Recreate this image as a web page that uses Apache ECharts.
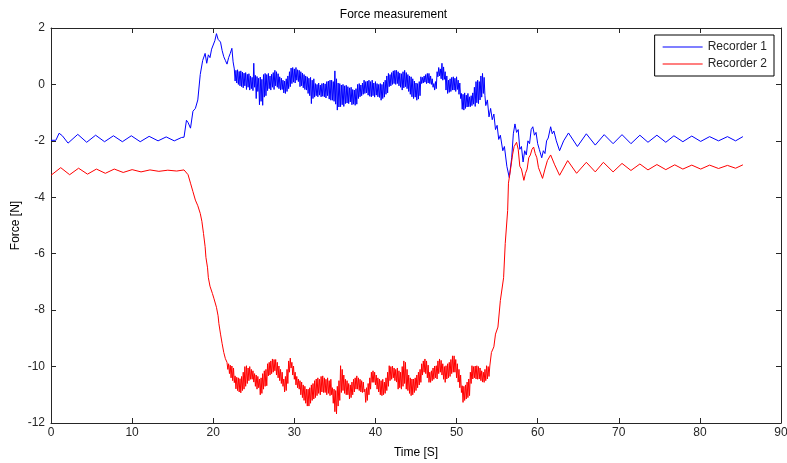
<!DOCTYPE html>
<html>
<head>
<meta charset="utf-8">
<script src="https://cdn.jsdelivr.net/npm/echarts@6/dist/echarts.min.js"></script>
<style>
html,body{margin:0;padding:0;background:#fff;}
#chart{width:787px;height:463px;}
</style>
</head>
<body>
<div id="chart"></div>
<script>
// ---------- DATA ----------
var titleText = 'Force measurement';
var xLabel = 'Time [S]';
var yLabel = 'Force [N]';
var seriesNames = ['Recorder 1', 'Recorder 2'];
var xTicks = [0, 10, 20, 30, 40, 50, 60, 70, 80, 90];
var yTicks = [-12, -10, -8, -6, -4, -2, 0, 2];

// Recorder 1: calm start [time, force]
var r1Start = [[0,-1.98],[0.6,-1.98],[1.0,-1.73],[1.4,-1.82],[2.1,-2.08],[3.3,-1.77],[4.4,-2.05],[5.5,-1.8],[6.6,-2.03],[7.7,-1.82],[8.8,-2.03],[9.9,-1.82],[11.0,-2.03],[12.1,-1.84],[13.2,-2.0],[14.2,-1.86],[15.2,-2.0],[16.1,-1.88]];
// Recorder 1: rise
var r1Rise = [[16.4,-1.87],[16.7,-1.27],[16.9,-1.35],[17.2,-1.55],[17.5,-0.95],[17.8,-0.85],[18.1,-0.55],[18.4,0.35],[18.7,0.85],[19.0,1.1],[19.2,0.75],[19.4,1.05],[19.6,0.95],[19.8,1.25],[20.0,1.3],[20.2,1.55],[20.4,1.8],[20.6,1.6],[20.9,1.5],[21.1,1.2],[21.3,0.98],[21.5,0.85],[21.7,0.72],[21.9,0.95],[22.1,1.1],[22.3,1.28],[22.45,0.8]];
// Recorder 1: noisy plateau, sampled every 0.1 s from 22.6 s
var r1NoiseStart = 22.6, r1NoiseStep = 0.1;
var r1Noise = [
 0.55,0.12,0.50,0.05,0.52,0.00,0.46,-0.05,0.48,-0.08,
 0.44,-0.12,0.40,-0.05,0.42,-0.18,0.36,-0.10,0.38,-0.20,
 0.30,-0.15,0.25,-0.22,0.75,-0.10,0.32,-0.50,0.28,-0.25,
 0.22,-0.72,0.26,-0.60,0.18,-0.74,0.35,-0.45,0.39,-0.40,
 0.35,-0.22,0.39,-0.15,0.30,-0.20,0.36,-0.10,0.42,-0.18,
 0.50,-0.05,0.45,-0.10,0.38,-0.15,0.27,-0.20,0.22,-0.18,
 0.15,-0.30,0.12,-0.32,0.20,-0.25,0.30,-0.15,0.45,-0.08,
 0.58,0.03,0.60,0.08,0.55,0.05,0.60,0.15,0.52,0.10,
 0.50,-0.08,0.45,-0.05,0.40,-0.12,0.35,-0.18,0.30,-0.20,
 0.27,-0.32,0.22,-0.40,0.25,-0.68,0.15,-0.50,0.20,-0.45,
 0.03,-0.40,0.00,-0.44,0.05,-0.38,-0.02,-0.44,0.03,-0.42,
 0.05,-0.44,0.02,-0.48,0.10,-0.40,0.12,-0.52,0.15,-0.56,
 0.15,-0.56,0.10,-0.60,0.48,-0.70,0.20,-0.91,0.05,-0.80,
 0.03,-0.79,-0.02,-0.72,0.00,-0.78,-0.05,-0.68,-0.03,-0.66,
 -0.08,-0.68,-0.12,-0.62,-0.10,-0.72,-0.18,-0.70,-0.20,-0.74,
 -0.15,-0.70,0.00,-0.50,0.03,-0.44,-0.02,-0.40,0.05,-0.35,
 0.15,-0.32,0.10,-0.30,0.12,-0.38,0.15,-0.42,0.10,-0.44,
 0.15,-0.40,0.05,-0.45,0.10,-0.38,0.03,-0.44,0.00,-0.46,
 0.03,-0.56,0.00,-0.50,0.08,-0.45,0.15,-0.35,0.30,-0.30,
 0.39,-0.08,0.35,-0.05,0.42,0.00,0.48,0.03,0.50,0.00,
 0.50,0.03,0.45,-0.05,0.40,-0.10,0.38,-0.20,0.45,-0.12,
 0.50,-0.08,0.42,-0.15,0.35,-0.25,0.30,-0.35,0.27,-0.44,
 0.20,-0.50,0.12,-0.45,0.05,-0.56,0.03,-0.52,0.10,-0.40,
 0.27,0.03,0.25,0.05,0.30,0.08,0.35,0.03,0.39,0.05,
 0.39,0.03,0.30,0.00,0.20,-0.10,0.03,-0.20,0.10,-0.15,
 0.45,0.27,0.60,0.30,0.55,0.20,0.75,0.15,0.62,0.18,
 0.45,-0.20,0.30,-0.32,0.15,-0.28,0.20,-0.25,0.25,-0.20,
 0.27,-0.20,0.22,-0.25,0.27,-0.18,0.15,-0.35,0.05,-0.50,
 -0.32,-0.88,-0.35,-0.91,-0.30,-0.85,-0.38,-0.80,-0.32,-0.79,
 -0.44,-0.79,-0.40,-0.75,-0.30,-0.70,-0.10,-0.78,0.10,-0.65,
 0.15,-0.68,0.10,-0.55,0.30,-0.45,0.39,-0.32,0.25,-0.40,
 -0.75];
// Recorder 1: drop and decaying oscillation
var r1End = [[53.8,-0.55],[54.0,-1.15],[54.2,-0.85],[54.4,-1.25],[54.6,-1.05],[54.8,-1.6],[55.0,-1.45],[55.2,-1.95],[55.4,-1.8],[55.7,-2.35],[55.9,-2.2],[56.2,-2.9],[56.5,-3.3],[56.8,-2.6],[57.0,-1.75],[57.2,-1.4],[57.4,-1.7],[57.6,-1.6],[57.8,-2.3],[58.0,-2.2],[58.2,-2.75],[58.4,-2.35],[58.6,-2.5],[58.8,-2.0],[59.0,-2.1],[59.2,-1.6],[59.4,-1.5],[59.6,-1.8],[59.8,-1.7],[60.0,-2.1],[60.2,-2.3],[60.5,-2.6],[60.7,-2.35],[60.9,-2.45],[61.1,-2.0],[61.3,-1.9],[61.6,-1.5],[61.8,-1.75],[62.0,-1.65],[62.3,-2.0],[62.7,-2.35],[63.2,-2.0],[63.8,-1.72],[64.9,-2.2],[66.0,-1.75],[67.1,-2.15],[68.2,-1.78],[69.3,-2.1],[70.4,-1.78],[71.5,-2.1],[72.6,-1.8],[73.6,-2.05],[74.7,-1.8],[75.8,-2.05],[76.8,-1.82],[77.9,-2.03],[79.0,-1.83],[80.1,-2.02],[81.2,-1.85],[82.3,-2.0],[83.4,-1.85],[84.4,-2.0],[85.3,-1.85]];

// Recorder 2: calm start
var r2Start = [[0,-3.22],[1.2,-2.95],[2.3,-3.2],[3.4,-2.97],[4.5,-3.18],[5.6,-3.0],[6.7,-3.15],[7.8,-3.0],[8.9,-3.12],[10.0,-3.02],[11.1,-3.1],[12.2,-3.03],[13.3,-3.08],[14.4,-3.04],[15.5,-3.07],[16.4,-3.03]];
// Recorder 2: fall
var r2Fall = [[16.6,-3.04],[16.9,-3.2],[17.2,-3.5],[17.5,-3.8],[17.8,-4.1],[18.1,-4.3],[18.4,-4.57],[18.6,-4.85],[18.8,-5.28],[19.0,-5.75],[19.1,-6.13],[19.3,-6.5],[19.4,-6.85],[19.6,-7.15],[19.9,-7.41],[20.1,-7.6],[20.4,-7.9],[20.6,-8.2],[20.7,-8.48],[20.9,-8.85],[21.1,-9.19],[21.3,-9.5],[21.5,-9.72]];
// Recorder 2: noisy plateau, sampled every 0.1 s from 21.7 s
var r2NoiseStart = 21.7, r2NoiseStep = 0.1;
var r2Noise = [
 -9.85,-10.10,-9.90,-10.25,-9.95,-10.40,-9.98,-10.50,-10.05,-10.57,
 -10.33,-10.79,-10.38,-10.85,-10.40,-10.90,-10.43,-10.93,-10.35,-10.85,
 -10.20,-10.80,-10.00,-10.70,-9.97,-10.60,-10.05,-10.50,-10.00,-10.45,
 -10.10,-10.45,-10.15,-10.55,-10.25,-10.70,-10.30,-10.80,-10.35,-10.75,
 -10.44,-11.00,-10.40,-10.95,-10.25,-10.80,-10.15,-10.70,-10.10,-10.68,
 -9.90,-10.33,-9.85,-10.30,-9.80,-10.25,-9.73,-10.20,-9.75,-10.15,
 -9.75,-10.30,-9.85,-10.40,-9.98,-10.50,-10.10,-10.60,-10.20,-10.70,
 -10.44,-10.90,-10.35,-10.85,-10.10,-10.60,-9.80,-10.20,-9.70,-10.05,
 -9.85,-10.30,-9.98,-10.45,-10.20,-10.65,-10.35,-10.75,-10.44,-10.80,
 -10.50,-11.00,-10.55,-11.10,-10.65,-11.20,-10.70,-11.30,-10.80,-11.40,
 -10.80,-11.40,-10.75,-11.30,-10.65,-11.20,-10.60,-11.15,-10.50,-11.10,
 -10.44,-11.03,-10.40,-10.95,-10.45,-11.00,-10.35,-10.90,-10.33,-10.92,
 -10.40,-10.92,-10.45,-11.00,-10.40,-10.95,-10.50,-11.03,-10.45,-11.00,
 -10.75,-11.30,-10.80,-11.60,-10.85,-11.68,-10.70,-11.40,-10.50,-11.20,
 -9.97,-10.92,-10.10,-10.85,-10.30,-10.95,-10.45,-11.00,-10.50,-11.00,
 -10.60,-11.15,-10.65,-11.10,-10.55,-11.00,-10.45,-10.90,-10.40,-10.80,
 -10.33,-10.80,-10.40,-10.85,-10.45,-10.90,-10.50,-10.92,-10.55,-10.90,
 -10.80,-11.27,-10.75,-11.20,-10.60,-11.00,-10.40,-10.80,-10.20,-10.56,
 -10.15,-10.56,-10.20,-10.65,-10.30,-10.80,-10.40,-10.90,-10.44,-11.00,
 -10.50,-11.03,-10.45,-11.00,-10.55,-10.95,-10.40,-10.85,-10.20,-10.70,
 -9.97,-10.50,-10.00,-10.45,-9.98,-10.40,-10.05,-10.50,-10.10,-10.55,
 -10.05,-10.80,-10.15,-10.75,-10.20,-10.80,-10.00,-10.70,-9.80,-10.60,
 -9.85,-10.80,-10.10,-10.85,-10.30,-10.95,-10.40,-11.03,-10.44,-11.00,
 -10.44,-10.92,-10.40,-10.85,-10.30,-10.75,-10.20,-10.65,-10.10,-10.56,
 -9.90,-10.30,-9.80,-10.20,-9.73,-10.25,-9.80,-10.40,-9.95,-10.56,
 -10.20,-10.56,-10.15,-10.50,-10.05,-10.45,-9.98,-10.40,-9.97,-10.44,
 -9.80,-10.25,-9.73,-10.20,-9.78,-10.30,-9.90,-10.45,-10.00,-10.56,
 -9.97,-10.44,-9.90,-10.40,-9.85,-10.35,-9.75,-10.25,-9.62,-10.20,
 -9.62,-10.20,-9.75,-10.40,-9.90,-10.55,-10.10,-10.75,-10.30,-10.92,
 -10.68,-11.27,-10.70,-11.20,-10.65,-11.15,-10.55,-11.10,-10.44,-11.03,
 -10.20,-10.60,-9.97,-10.44,-10.00,-10.40,-9.98,-10.44,-9.97,-10.45,
 -10.00,-10.44,-10.05,-10.50,-10.15,-10.55,-10.20,-10.56,-10.10,-10.50,
 -9.97,-10.44,-10.00,-10.35,-9.98];
// Recorder 2: rise and decaying oscillation
var r2End = [[54.3,-9.5],[54.6,-9.3],[54.8,-8.85],[55.1,-8.6],[55.4,-7.66],[55.8,-6.85],[56.0,-5.64],[56.3,-4.47],[56.4,-3.5],[56.7,-2.92],[56.9,-2.5],[57.1,-2.2],[57.4,-2.05],[57.6,-2.3],[57.8,-2.9],[58.0,-3.0],[58.3,-3.4],[58.5,-3.15],[58.7,-3.0],[58.9,-2.6],[59.1,-2.5],[59.3,-2.3],[59.5,-2.22],[59.7,-2.45],[59.9,-2.6],[60.1,-2.95],[60.3,-3.1],[60.6,-3.33],[60.9,-3.0],[61.2,-2.7],[61.6,-2.5],[62.1,-2.85],[62.7,-3.22],[63.7,-2.7],[64.8,-3.15],[66.0,-2.76],[67.1,-3.1],[68.1,-2.76],[69.3,-3.1],[70.4,-2.8],[71.5,-3.05],[72.6,-2.82],[73.6,-3.03],[74.7,-2.84],[75.8,-3.02],[76.9,-2.85],[77.9,-3.0],[79.0,-2.86],[80.1,-3.0],[81.2,-2.86],[82.3,-2.98],[83.4,-2.87],[84.4,-2.97],[85.3,-2.85]];

// ---------- build series ----------
function sampled(start, step, vals) {
  return vals.map(function (v, i) { return [+(start + i * step).toFixed(3), v]; });
}
var r1Data = r1Start.concat(r1Rise, sampled(r1NoiseStart, r1NoiseStep, r1Noise), r1End);
var r2Data = r2Start.concat(r2Fall, sampled(r2NoiseStart, r2NoiseStep, r2Noise), r2End);

var FONT = '"Liberation Sans", Arial, Helvetica, sans-serif';
var AX = '#262626';

var chart = echarts.init(document.getElementById('chart'), null, {renderer: 'canvas'});
function axisBase(extra) {
  var o = {
    axisLine: {show: true, onZero: false, lineStyle: {color: AX, width: 1}},
    axisTick: {show: true, inside: true, length: 5, lineStyle: {color: AX}},
    splitLine: {show: false},
    axisLabel: {color: AX, fontFamily: FONT, fontSize: 12}
  };
  for (var k in extra) o[k] = extra[k];
  return o;
}
var option = {
  animation: false,
  backgroundColor: '#ffffff',
  title: {
    text: titleText, left: 'center', top: 4,
    textStyle: {fontFamily: FONT, fontSize: 12, fontWeight: 'normal', color: '#000'}
  },
  legend: {
    data: seriesNames, orient: 'vertical', right: 13, top: 35,
    backgroundColor: '#fff', borderColor: '#000', borderWidth: 1,
    padding: [6, 7, 6, 8], itemGap: 5, itemWidth: 40, itemHeight: 1, itemTextGap: 4,
    icon: 'rect',
    textStyle: {fontFamily: FONT, fontSize: 12, color: AX}
  },
  grid: {left: 51, right: 6, top: 28, bottom: 40, containLabel: false, outerBoundsMode: 'none'},
  xAxis: [
    axisBase({type: 'value', min: xTicks[0], max: xTicks[xTicks.length - 1], interval: 10, position: 'bottom',
      name: xLabel, nameLocation: 'middle', nameGap: 24,
      nameTextStyle: {fontFamily: FONT, fontSize: 12, color: '#000'},
      axisLabel: {color: AX, fontFamily: FONT, fontSize: 12, margin: 4}}),
    axisBase({type: 'value', min: xTicks[0], max: xTicks[xTicks.length - 1], interval: 10, position: 'top',
      axisLabel: {show: false}})
  ],
  yAxis: [
    axisBase({type: 'value', min: yTicks[0], max: yTicks[yTicks.length - 1], interval: 2, position: 'left',
      name: yLabel, nameLocation: 'middle', nameGap: 29, nameRotate: 90, nameMoveOverlap: false,
      nameTextStyle: {fontFamily: FONT, fontSize: 12, color: '#000'},
      axisLabel: {color: AX, fontFamily: FONT, fontSize: 12, margin: 6}}),
    axisBase({type: 'value', min: yTicks[0], max: yTicks[yTicks.length - 1], interval: 2, position: 'right',
      axisLabel: {show: false}})
  ],
  series: [
    {name: seriesNames[0], type: 'line', data: r1Data, showSymbol: false, symbol: 'none',
     xAxisIndex: 0, yAxisIndex: 0,
     lineStyle: {color: '#0000ff', width: 1}, itemStyle: {color: '#0000ff'}},
    {name: seriesNames[1], type: 'line', data: r2Data, showSymbol: false, symbol: 'none',
     xAxisIndex: 0, yAxisIndex: 0,
     lineStyle: {color: '#ff0000', width: 1}, itemStyle: {color: '#ff0000'}}
  ]
};
chart.setOption(option);
</script>
</body>
</html>
